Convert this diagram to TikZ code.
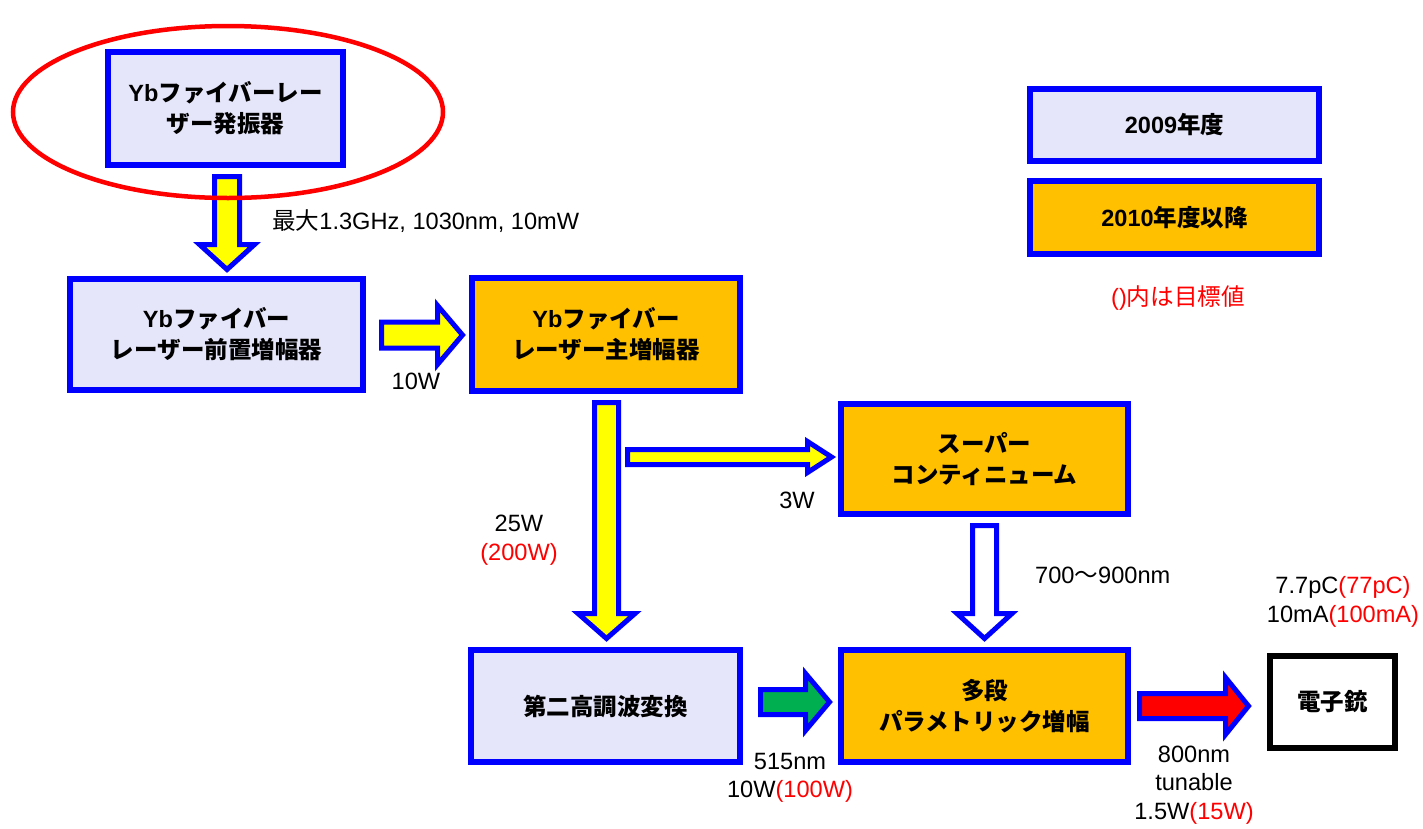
\documentclass[tikz,border=0pt]{standalone}
\usepackage{fontspec}
\setmainfont{Liberation Sans}
\newfontfamily\jp{Noto Sans CJK JP}
\usetikzlibrary{calc}
\definecolor{lav}{HTML}{E6E6FA}
\definecolor{org}{HTML}{FFC000}
\definecolor{grn}{HTML}{00B050}
\definecolor{bl}{HTML}{0000FF}
\definecolor{rd}{HTML}{FF0000}
\definecolor{yl}{HTML}{FFFF00}
\tikzset{
  box/.style={draw=bl, line width=6pt, outer sep=3pt, inner sep=0pt, align=center,
    font=\bfseries\fontsize{23.5}{31}\selectfont},
  boxold/.style={box, fill=lav},
  boxnew/.style={box, fill=org},
  lab/.style={inner sep=0pt, align=center, font=\fontsize{23.6}{28.5}\selectfont},
  blockarrow/.style={draw=bl, line width=5pt, line join=miter, miter limit=10}
}
% vertical block arrow pointing down: #1 start, #2 tip, #3 shaft half, #4 head half, #5 head length, #6 fill
\newcommand\barrowdown[6]{%
  \path[blockarrow, fill=#6] let \p1=(#1), \p2=(#2) in
   (\x1-#3,\y1) -- (\x1-#3,\y2+#5) -- (\x1-#4,\y2+#5) -- (\x1,\y2)
   -- (\x1+#4,\y2+#5) -- (\x1+#3,\y2+#5) -- (\x1+#3,\y1) -- cycle;}
% horizontal block arrow pointing right
\newcommand\barrowright[6]{%
  \path[blockarrow, fill=#6] let \p1=(#1), \p2=(#2) in
   (\x1,\y1+#3) -- (\x2-#5,\y1+#3) -- (\x2-#5,\y1+#4) -- (\x2,\y1)
   -- (\x2-#5,\y1-#4) -- (\x2-#5,\y1-#3) -- (\x1,\y1-#3) -- cycle;}
\begin{document}
\begin{tikzpicture}[x=1pt, y=-1pt]
\useasboundingbox (0,0) rectangle (1423,828);

% boxes
\node[boxold, minimum width=235pt, minimum height=113pt] (osc) at (225.5,108.5)
  {Yb{\jp ファイバーレー}\\{\jp ザー発振器}};
\node[boxold, minimum width=293pt, minimum height=111pt] (pre) at (216.5,334.5)
  {Yb{\jp ファイバー}\\{\jp レーザー前置増幅器}};
\node[boxnew, minimum width=268pt, minimum height=113pt] (main) at (606,334.5)
  {Yb{\jp ファイバー}\\{\jp レーザー主増幅器}};
\node[boxnew, minimum width=287pt, minimum height=110pt] (sc) at (984.5,459)
  {{\jp スーパー}\\{\jp コンティニューム}};
\node[boxold, minimum width=269pt, minimum height=112pt] (shg) at (605.5,706)
  {{\jp 第二高調波変換}};
\node[boxnew, minimum width=287pt, minimum height=112pt] (opa) at (984.5,706)
  {{\jp 多段}\\{\jp パラメトリック増幅}};
\node[box, draw=black, fill=white, minimum width=125pt, minimum height=92pt] (gun) at (1332.5,702)
  {{\jp 電子銃}};

% legend
\node[boxold, minimum width=289pt, minimum height=72pt] (leg1) at (1174.5,125) {2009{\jp 年度}};
\node[boxnew, minimum width=289pt, minimum height=73pt] (leg2) at (1174.5,217.5) {2010{\jp 年度以降}};
\node[lab, text=rd] (note) at (1178,298) {(){\jp 内は目標値}};

% connector end points
\coordinate (a1s) at ($(osc.south)+(1.5,8.5)$);
\coordinate (a1e) at ($(pre.north)+(0,-6.5)$);
\coordinate (a2s) at ($(pre.east)+(15.5,0.5)$);
\coordinate (a2e) at ($(main.west)+(-6.5,0)$);
\coordinate (stem) at ($(main.south)+(0.5,8.5)$);
\coordinate (a3e) at ($(shg.north)+(0,-8.5)$);
\coordinate (a4s) at ($(stem)+(21,54.5)$);
\coordinate (a4e) at ($(sc.west)+(-6.5,0)$);
\coordinate (a5s) at ($(sc.south)+(0,8.5)$);
\coordinate (a5e) at ($(opa.north)+(0,-8.5)$);
\coordinate (a6s) at ($(shg.east)+(17.5,-4)$);
\coordinate (a6e) at ($(opa.west)+(-8.5,0)$);
\coordinate (a7s) at ($(opa.east)+(8.5,0)$);
\coordinate (a7e) at ($(gun.west)+(-18.5,0)$);

% block arrows
\barrowdown{a1s}{a1e}{12.5pt}{27.5pt}{25pt}{yl}
\barrowright{a2s}{a2e}{13pt}{29.5pt}{25pt}{yl}
\barrowdown{stem}{a3e}{12pt}{28.5pt}{25pt}{yl}
\barrowright{a4s}{a4e}{7.5pt}{15.5pt}{24pt}{yl}
\barrowdown{a5s}{a5e}{12pt}{27.5pt}{25pt}{white}
\barrowright{a6s}{a6e}{12.5pt}{28.5pt}{24pt}{grn}
\barrowright{a7s}{a7e}{12.5pt}{28.5pt}{23pt}{rd}

% labels
\node[lab, anchor=west] (l1) at (272,221) {{\jp 最大}1.3GHz, 1030nm, 10mW};
\node[lab] (l2) at (416,381) {10W};
\node[lab] (l3) at (797,500) {3W};
\node[lab] (l4) at (519,540) {25W\\\textcolor{rd}{(200W)}};
\node[lab, anchor=west] (l5) at (1035,575) {700{\jp 〜}900nm};
\node[lab] (l6) at (790,778) {515nm\\10W\textcolor{rd}{(100W)}};
\node[lab] (l7) at (1194,785) {800nm\\tunable\\1.5W\textcolor{rd}{(15W)}};
\node[lab] (l8) at (1343,602) {7.7pC\textcolor{rd}{(77pC)}\\10mA\textcolor{rd}{(100mA)}};

% highlight ellipse
\draw[rd, line width=4.5pt] (228,112) ellipse [x radius=215, y radius=86];
\end{tikzpicture}
\end{document}
